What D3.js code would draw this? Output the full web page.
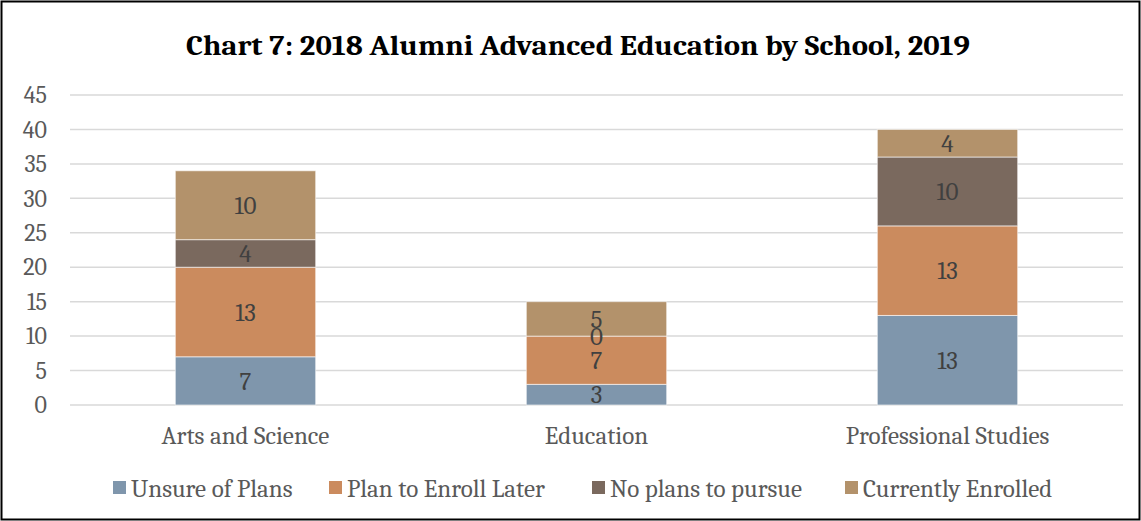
<!DOCTYPE html>
<html>
<head>
<meta charset="utf-8">
<script src="https://cdn.jsdelivr.net/npm/d3@7"></script>
<style>
  html, body { margin: 0; padding: 0; background: #fff; }
  svg { display: block; }
  text { font-family: Cambria, "Liberation Serif", "DejaVu Serif", serif; }
</style>
</head>
<body>
<svg id="chart" width="1141" height="521"></svg>
<script>
// Alumni advanced-education status, stacked per school
const schools = ["Arts and Science", "Education", "Professional Studies"];
const seriesNames = ["Unsure of Plans", "Plan to Enroll Later", "No plans to pursue", "Currently Enrolled"];
const unsureOfPlans = [7, 3, 13];
const planToEnrollLater = [13, 7, 13];
const noPlansToPursue = [4, 0, 10];
const currentlyEnrolled = [10, 5, 4];
const yTicks = [0, 5, 10, 15, 20, 25, 30, 35, 40, 45];
const seriesColors = ["#7f96ac", "#cb8b5e", "#7a695e", "#b3926b"];

const FONT = 'Cambria, "Liberation Serif", "DejaVu Serif", serif';
const svg = d3.select("#chart");
const W = 1141, H = 521;

// outer frame
svg.append("rect")
  .attr("x", 1.5).attr("y", 1.5)
  .attr("width", W - 3).attr("height", H - 3)
  .attr("fill", "#fff").attr("stroke", "#000").attr("stroke-width", 2);

const rows = schools.map((s, i) => ({
  school: s,
  [seriesNames[0]]: unsureOfPlans[i],
  [seriesNames[1]]: planToEnrollLater[i],
  [seriesNames[2]]: noPlansToPursue[i],
  [seriesNames[3]]: currentlyEnrolled[i]
}));
const stacked = d3.stack().keys(seriesNames)(rows);

const x = d3.scaleBand().domain(schools).range([70, 1123])
  .paddingInner(0.6).paddingOuter(0.3);
const y = d3.scaleLinear().domain([0, 45]).range([405, 95]);

// title
svg.append("text")
  .attr("x", 578).attr("y", 55)
  .attr("text-anchor", "middle")
  .attr("font-weight", "bold").attr("font-size", 29)
  .attr("fill", "#000")
  .attr("textLength", 784).attr("lengthAdjust", "spacingAndGlyphs")
  .text("Chart 7: 2018 Alumni Advanced Education by School, 2019");

// gridlines
svg.append("g").selectAll("line").data(yTicks).join("line")
  .attr("x1", 70).attr("x2", 1123)
  .attr("y1", d => y(d)).attr("y2", d => y(d))
  .attr("stroke", "#d9d9d9").attr("stroke-width", 1.5);

// y axis labels
const yAxis = d3.axisLeft(y).tickValues(yTicks).tickSize(0).tickPadding(0);
const gy = svg.append("g").attr("transform", "translate(47,0)").call(yAxis);
gy.select(".domain").remove();
gy.selectAll("text")
  .attr("font-family", FONT)
  .attr("font-size", 24).attr("fill", "#595959");

// bars
const layers = svg.append("g").selectAll("g").data(stacked).join("g")
  .attr("fill", (d, i) => seriesColors[i]);
layers.selectAll("rect").data(d => d).join("rect")
  .attr("x", d => x(d.data.school))
  .attr("width", x.bandwidth())
  .attr("y", d => y(d[1]))
  .attr("height", d => y(d[0]) - y(d[1]))
  .attr("stroke", "#fff").attr("stroke-opacity", 0.6).attr("stroke-width", 1);

// value labels
const labels = svg.append("g");
stacked.forEach(layer => {
  layer.forEach(d => {
    labels.append("text")
      .attr("x", x(d.data.school) + x.bandwidth() / 2)
      .attr("y", y((d[0] + d[1]) / 2))
      .attr("dy", "0.35em")
      .attr("text-anchor", "middle")
      .attr("font-size", 25).attr("fill", "#404040")
      .text(d[1] - d[0]);
  });
});

// category axis
const xAxis = d3.axisBottom(x).tickSize(0).tickPadding(0);
const gx = svg.append("g").attr("transform", "translate(0,435)").call(xAxis);
gx.select(".domain").remove();
gx.selectAll("text")
  .attr("font-family", FONT)
  .attr("font-size", 25).attr("fill", "#595959").attr("dy", "0.35em");

// legend
const legendX = [113, 329, 592, 845];
const legend = svg.append("g").selectAll("g").data(seriesNames).join("g")
  .attr("transform", (d, i) => `translate(${legendX[i]},488)`);
legend.append("rect")
  .attr("x", 0).attr("y", -7).attr("width", 13).attr("height", 13)
  .attr("fill", (d, i) => seriesColors[i]);
legend.append("text")
  .attr("x", 18).attr("y", 0).attr("dy", "0.35em")
  .attr("font-size", 25).attr("fill", "#595959")
  .text(d => d);
</script>
</body>
</html>
